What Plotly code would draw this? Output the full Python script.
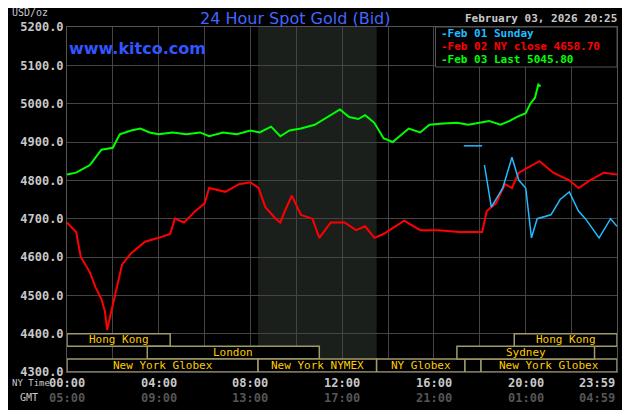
import plotly.graph_objects as go

# Data (x in hours NY time)
green_x = [0,0.4,1.0,1.5,2.0,2.3,2.8,3.2,3.6,4.0,4.6,5.2,5.8,6.2,6.8,7.4,8.0,8.4,8.9,9.3,9.7,10.2,10.8,11.2,11.5,11.9,12.3,12.7,13.0,13.4,13.8,14.2,14.5,14.9,15.4,15.8,16.4,17.0,17.5,18.0,18.4,18.9,19.3,19.6,20.0,20.2,20.4,20.55,20.65]
green_y = [4815,4820,4840,4880,4885,4920,4930,4935,4925,4920,4925,4920,4925,4915,4925,4920,4930,4925,4940,4915,4930,4935,4945,4960,4970,4985,4965,4960,4970,4950,4910,4900,4915,4935,4925,4945,4948,4950,4945,4950,4955,4945,4955,4965,4975,5000,5015,5050,5045]

red_x = [0,0.4,0.6,1.0,1.25,1.5,1.65,1.75,1.9,2.2,2.4,2.8,3.4,4.0,4.5,4.7,5.1,5.6,6.0,6.2,6.9,7.5,8.0,8.35,8.65,9.1,9.3,9.5,9.8,10.2,10.7,11.0,11.5,12.1,12.6,13.0,13.4,13.8,14.3,14.7,15.4,16.2,17.1,18.1,18.3,18.7,19.1,19.4,19.7,20.6,21.2,21.9,22.3,22.8,23.4,23.98]
red_y = [4690,4665,4600,4560,4520,4490,4460,4410,4450,4530,4580,4610,4640,4650,4660,4700,4690,4720,4740,4780,4770,4790,4795,4780,4730,4700,4690,4720,4760,4710,4700,4650,4690,4690,4670,4680,4650,4660,4680,4695,4670,4670,4665,4665,4720,4740,4790,4780,4820,4850,4820,4800,4780,4800,4820,4815]

blue_x = [17.3,18.1,None,18.2,18.4,18.5,18.8,19.0,19.4,19.7,20.0,20.15,20.25,20.5,21.1,21.5,21.9,22.3,22.6,23.2,23.7,23.98]
blue_y = [4890,4890,None,4840,4760,4730,4760,4780,4860,4800,4780,4700,4650,4700,4710,4750,4770,4720,4700,4650,4700,4680]

ny_ticks = [0,4,8,12,16,20,23.98]
ny_labels = ["00:00","04:00","08:00","12:00","16:00","20:00","23:59"]
gmt_labels = ["05:00","09:00","13:00","17:00","21:00","01:00","04:59"]

# sessions: (name, start, end, row)
sessions = [("Hong Kong",0,4.5,0),("London",3.5,11.0,1),("New York Globex",0,8.33,2),
            ("New York NYMEX",8.33,13.5,2),("NY Globex",13.5,17.35,2),("",17.35,18.05,2),
            ("New York Globex",18.05,23.98,2),("Sydney",17.0,23.0,1),("Hong Kong",19.5,23.98,0)]
rows = [(4367,4400),(4334,4367),(4300,4334)]

MONO = "DejaVu Sans Mono"
fig = go.Figure()
fig.add_trace(go.Scatter(x=red_x, y=red_y, mode="lines", line=dict(color="#ff0000", width=2), hoverinfo="skip"))
fig.add_trace(go.Scatter(x=blue_x, y=blue_y, mode="lines", line=dict(color="#22bbff", width=1.5), hoverinfo="skip"))
fig.add_trace(go.Scatter(x=green_x, y=green_y, mode="lines", line=dict(color="#00ff00", width=2), hoverinfo="skip"))

shapes = [dict(type="rect", x0=8.33, x1=13.5, y0=4300, y1=5200, xref="x", yref="y",
               fillcolor="#1b1f1b", line=dict(width=0), layer="below")]
annos = []
for name, a, b, r in sessions:
    y0, y1 = rows[r]
    shapes.append(dict(type="rect", x0=a, x1=b, y0=y0, y1=y1, xref="x", yref="y",
                       fillcolor="#000000", line=dict(color="#a09a6a", width=1.5)))
    if name:
        annos.append(dict(x=(a+b)/2, y=(y0+y1)/2, xref="x", yref="y", text=name, showarrow=False,
                          font=dict(family=MONO, size=11, color="#ffcc00")))
for i, (t, l1, l2) in enumerate(zip(ny_ticks, ny_labels, gmt_labels)):
    xa = "right" if i == len(ny_ticks) - 1 else "center"
    annos.append(dict(x=t, y=-0.032, xref="x", yref="paper", xanchor=xa, yanchor="middle", text="<b>"+l1+"</b>", showarrow=False,
                      font=dict(family=MONO, size=12, color="#c8c8c8")))
    annos.append(dict(x=t, y=-0.074, xref="x", yref="paper", xanchor=xa, yanchor="middle", text="<b>"+l2+"</b>", showarrow=False,
                      font=dict(family=MONO, size=12, color="#555555")))
annos += [
    dict(xref="paper", yref="paper", x=-0.104, y=-0.032, xanchor="left", yanchor="middle", text="NY Time", showarrow=False,
         font=dict(family=MONO, size=9, color="#c8c8c8")),
    dict(xref="paper", yref="paper", x=-0.09, y=-0.074, xanchor="left", yanchor="middle", text="GMT", showarrow=False,
         font=dict(family=MONO, size=10, color="#c8c8c8")),
    dict(xref="paper", yref="paper", x=-0.104, y=1.043, xanchor="left", yanchor="middle", text="USD/oz", showarrow=False,
         font=dict(family=MONO, size=10, color="#c8c8c8")),
    dict(xref="paper", yref="paper", x=0.415, y=1.025, yanchor="middle", text="24 Hour Spot Gold (Bid)", showarrow=False,
         font=dict(family="DejaVu Sans", size=16, color="#4466ff")),
    dict(xref="paper", yref="paper", x=0.0, y=0.939, xanchor="left", yanchor="middle", text="<b>www.kitco.com</b>", showarrow=False,
         font=dict(family="DejaVu Sans", size=16, color="#3355ff")),
    dict(xref="paper", yref="paper", x=1.004, y=1.026, xanchor="right", yanchor="middle", text="<b>February 03, 2026 20:25</b>", showarrow=False,
         font=dict(family=MONO, size=11, color="#c8c8c8")),
    dict(xref="paper", yref="paper", x=0.676, y=0.98, xanchor="left", yanchor="middle", text="<b>-Feb 01 Sunday</b>", showarrow=False,
         font=dict(family=MONO, size=11, color="#22bbff")),
    dict(xref="paper", yref="paper", x=0.676, y=0.944, xanchor="left", yanchor="middle", text="<b>-Feb 02 NY close 4658.70</b>", showarrow=False,
         font=dict(family=MONO, size=11, color="#ff0000")),
    dict(xref="paper", yref="paper", x=0.676, y=0.907, xanchor="left", yanchor="middle", text="<b>-Feb 03 Last 5045.80</b>", showarrow=False,
         font=dict(family=MONO, size=11, color="#00ff00")),
]
shapes.append(dict(type="rect", xref="paper", yref="paper", x0=0.67, x1=1.0, y0=0.884, y1=1.0,
                   fillcolor="#000000", line=dict(color="#555555", width=1)))

fig.update_layout(
    width=622, height=402, paper_bgcolor="#000000", plot_bgcolor="#000000",
    margin=dict(l=58, r=12, t=19, b=38), showlegend=False,
    shapes=shapes, annotations=annos,
    xaxis=dict(range=[0, 23.98], dtick=2, tick0=0, showticklabels=False, showgrid=True, gridcolor="#444444",
               zeroline=False, showline=True, linecolor="#555555", mirror=True, fixedrange=True),
    yaxis=dict(range=[4300, 5200], dtick=100, tickformat=".1f", showgrid=True, gridcolor="#444444",
               zeroline=False, showline=True, linecolor="#555555", mirror=True,
               tickfont=dict(family=MONO, size=12, color="#c8c8c8", weight="bold"), ticks="", fixedrange=True),
)
fig.write_html("out.html")
